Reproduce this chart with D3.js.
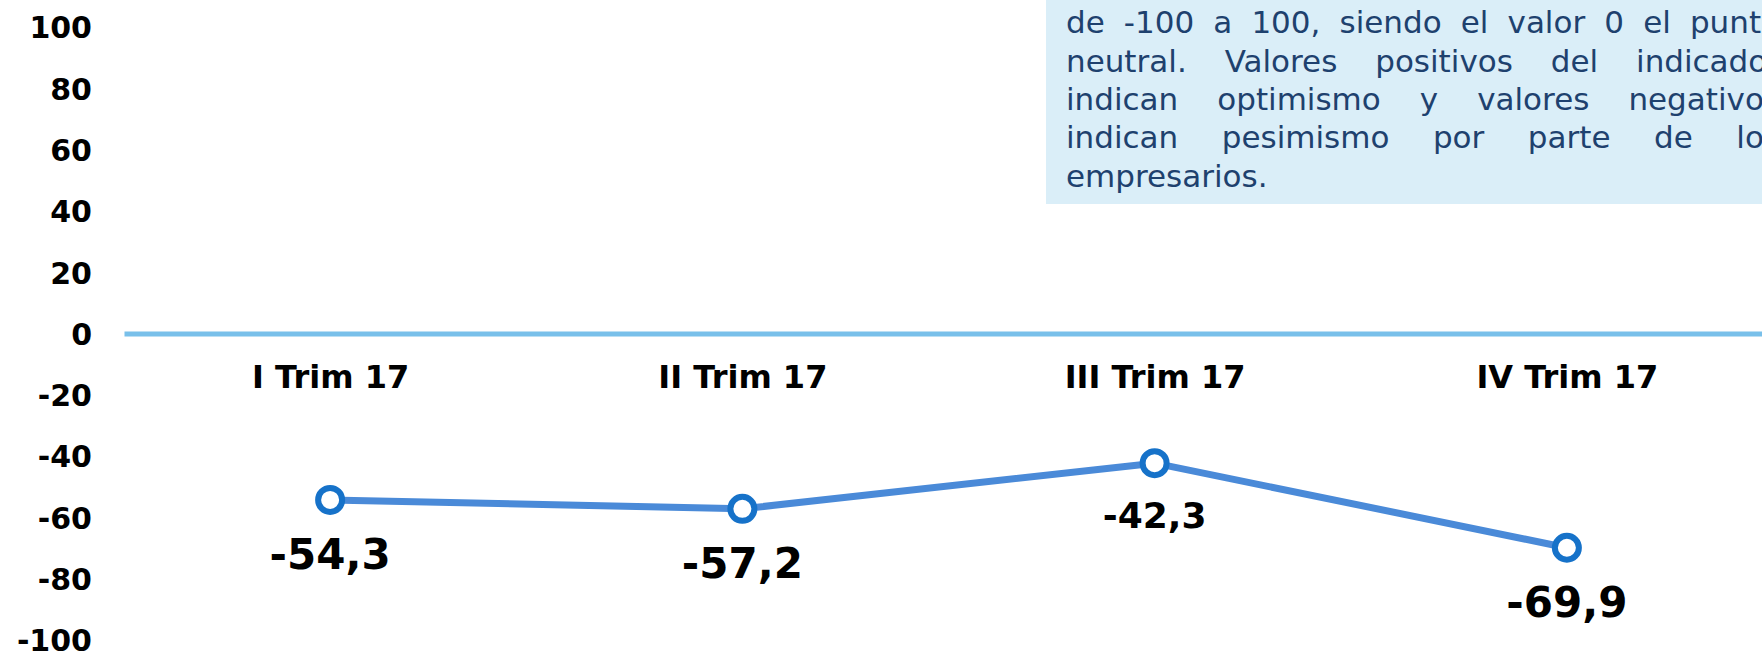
<!DOCTYPE html>
<html>
<head>
<meta charset="utf-8">
<script src="https://cdn.jsdelivr.net/npm/d3@7"></script>
<style>
  html, body { margin: 0; padding: 0; background: #ffffff; }
  svg { display: block; }
</style>
</head>
<body>
<svg id="chart" width="1762" height="653"></svg>
<script>
// ---- data ----
const categories = ["I Trim 17", "II Trim 17", "III Trim 17", "IV Trim 17"];
const values = [-54.3, -57.2, -42.3, -69.9];
const yTicks = [100, 80, 60, 40, 20, 0, -20, -40, -60, -80, -100];
const noteLines = [
  "de -100 a 100, siendo el valor 0 el punto",
  "neutral. Valores positivos del indicador",
  "indican optimismo y valores negativos",
  "indican pesimismo por parte de los",
  "empresarios."
];
// style only (label font size per point)
const labelSizes = [42, 42, 36, 42];

// ---- setup ----
const W = 1762, H = 653;
const svg = d3.select("#chart");
svg.append("rect").attr("width", W).attr("height", H).attr("fill", "#ffffff");

const x = d3.scalePoint().domain(categories).range([124, 1773]).padding(0.5);
const y = d3.scaleLinear().domain([-100, 100]).range([640, 27]);

const fmt = d3.formatLocale({decimal: ",", thousands: ".", grouping: [3], currency: ["", ""], minus: "-"}).format(".1f");
const FONT = "'DejaVu Sans', Verdana, sans-serif";

// ---- note box ----
const note = svg.append("g");
note.append("rect")
  .attr("x", 1046).attr("y", -10)
  .attr("width", W - 1046 + 20).attr("height", 204 + 10)
  .attr("fill", "#DAEEF8");
const noteX0 = 1066, noteX1 = 1780, noteBase = 33.3, noteLH = 38.35;
noteLines.forEach((line, i) => {
  const words = line.split(" ");
  const t = note.append("text")
    .attr("y", noteBase + i * noteLH)
    .attr("font-family", FONT)
    .attr("font-size", 31)
    .attr("fill", "#1e416e");
  const spans = words.map(w => t.append("tspan").text(w));
  const widths = spans.map(s => s.node().getComputedTextLength());
  const total = d3.sum(widths);
  const last = i === noteLines.length - 1;
  const gap = last ? 31 * 0.318 : (noteX1 - noteX0 - total) / (words.length - 1);
  let cx = noteX0;
  spans.forEach((s, k) => { s.attr("x", cx); cx += widths[k] + gap; });
});

// ---- y axis ----
const yAxis = svg.append("g")
  .attr("transform", "translate(124,0)")
  .call(d3.axisLeft(y).tickValues(yTicks).tickSize(0).tickPadding(32).tickFormat(d => String(d)));
yAxis.select(".domain").remove();
yAxis.selectAll("text")
  .attr("font-family", FONT)
  .attr("font-weight", "bold")
  .attr("font-size", 30)
  .attr("fill", "#000000")
  .attr("dy", "0.36em");

// ---- x axis (zero line) ----
const xAxis = svg.append("g")
  .attr("transform", `translate(0,${y(0)})`)
  .call(d3.axisBottom(x).tickSize(0).tickSizeOuter(0));
xAxis.select(".domain")
  .attr("stroke", "#79C0EA")
  .attr("stroke-width", 5);
xAxis.selectAll("text")
  .attr("font-family", FONT)
  .attr("font-weight", "bold")
  .attr("font-size", 32)
  .attr("fill", "#000000")
  .attr("y", 54.8)
  .attr("dy", 0);

// ---- line ----
const pts = categories.map((c, i) => ({c, v: values[i], i}));
svg.append("path")
  .datum(pts)
  .attr("fill", "none")
  .attr("stroke", "#4A8AD8")
  .attr("stroke-width", 7)
  .attr("stroke-linejoin", "round")
  .attr("d", d3.line().x(d => x(d.c)).y(d => y(d.v)));

svg.selectAll("circle.m")
  .data(pts)
  .join("circle")
  .attr("class", "m")
  .attr("cx", d => x(d.c))
  .attr("cy", d => y(d.v))
  .attr("r", 12)
  .attr("fill", "#ffffff")
  .attr("stroke", "#1672C9")
  .attr("stroke-width", 6);

// ---- data labels ----
svg.selectAll("text.lbl")
  .data(pts)
  .join("text")
  .attr("class", "lbl")
  .attr("x", d => x(d.c))
  .attr("y", d => y(d.v) + 38.6 + 0.725 * labelSizes[d.i])
  .attr("text-anchor", "middle")
  .attr("font-family", FONT)
  .attr("font-weight", "bold")
  .attr("font-size", d => labelSizes[d.i])
  .attr("fill", "#000000")
  .text(d => fmt(d.v));
</script>
</body>
</html>
